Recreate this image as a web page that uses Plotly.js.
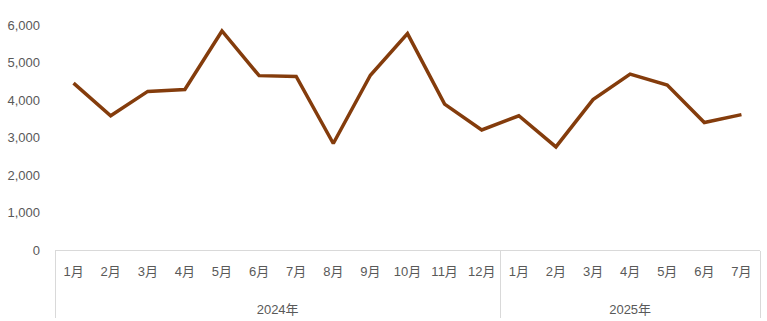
<!DOCTYPE html>
<html><head><meta charset="utf-8">
<script src="https://cdn.plot.ly/plotly-3.0.1.min.js"></script>
<style>html,body{margin:0;padding:0;background:#fff}#chart{width:767px;height:321px}</style>
</head><body><div id="chart"></div>
<script>
const years = ["2024年","2024年","2024年","2024年","2024年","2024年","2024年","2024年","2024年","2024年","2024年","2024年","2025年","2025年","2025年","2025年","2025年","2025年","2025年"];
const months = ["1月","2月","3月","4月","5月","6月","7月","8月","9月","10月","11月","12月","1月","2月","3月","4月","5月","6月","7月"];
const values = [4450,3580,4230,4280,5840,4650,4630,2840,4660,5770,3890,3200,3580,2750,4010,4690,4400,3400,3610];
const yTicks = [0,1000,2000,3000,4000,5000,6000];
const yTickText = ["0","1,000","2,000","3,000","4,000","5,000","6,000"];

// month labels carry empty extra lines so the year row sits lower, as in the reference
const monthLabels = months.map(m => m + "<br>\u00a0<br><span style='font-size:2px'>\u00a0</span>");

Plotly.newPlot('chart', [{
  type: 'scatter', mode: 'lines',
  x: [years, monthLabels], y: values,
  line: {color: '#843C0C', width: 3.5},
  hoverinfo: 'skip'
}], {
  width: 767, height: 321,
  margin: {l: 55, r: 7, t: 25, b: 71},
  paper_bgcolor: '#fff', plot_bgcolor: '#fff',
  font: {family: 'Liberation Sans, Noto Sans CJK JP, sans-serif', size: 13, color: '#595959'},
  showlegend: false,
  xaxis: {
    type: 'multicategory', range: [-0.5, 18.5],
    showline: true, linecolor: '#D9D9D9', linewidth: 1,
    showdividers: true, dividercolor: '#D9D9D9', dividerwidth: 1,
    showgrid: false, zeroline: false,
    ticks: '', ticklabelstandoff: 9,
    tickfont: {size: 13, color: '#595959'}
  },
  yaxis: {
    range: [0, 6000], tickvals: yTicks, ticktext: yTickText,
    showgrid: false, zeroline: false, showline: false,
    ticks: '', ticklabelstandoff: 14,
    tickfont: {size: 13, color: '#595959'}
  }
}, {staticPlot: true});
</script></body></html>
